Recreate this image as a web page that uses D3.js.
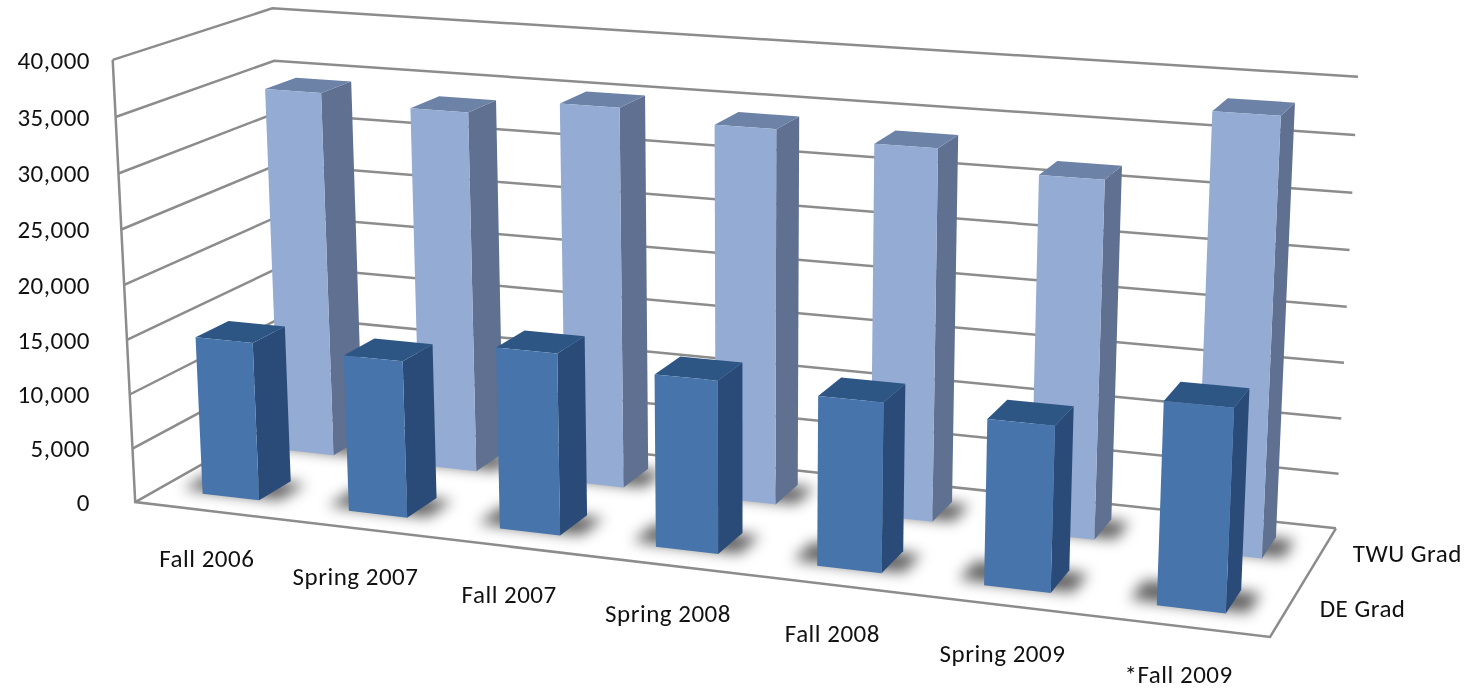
<!DOCTYPE html>
<html><head><meta charset="utf-8">
<script src="https://cdn.jsdelivr.net/npm/d3@7/dist/d3.min.js"></script>
<style>html,body{margin:0;padding:0;background:#fff}svg{display:block}text{font-family:Carlito,Lato,"Open Sans",sans-serif;fill:#111;letter-spacing:0.5px}</style>
</head><body><div id="c"></div>
<script>
const categories = ["Fall 2006","Spring 2007","Fall 2007","Spring 2008","Fall 2008","Spring 2009","*Fall 2009"];
const seriesNames = ["DE Grad","TWU Grad"];
const deGrad  = [14600,14290,16370,15360,14880,14370,17340];
const twuGrad = [34400,33600,35000,34100,33450,31800,38250];
const tickValues = [0,5000,10000,15000,20000,25000,30000,35000,40000];
const colors = {
  "DE Grad": {front:"#4674AB",side:"#2B4C78",top:"#2E5685"},
  "TWU Grad":{front:"#94ABD3",side:"#5F7090",top:"#6C82A6"}
};
const W=1469,H=689;
// camera calibration: unit-box corner (u,d,v) -> screen
const calib=[[0,0,0,135,501],[0,0,1,113,60],[0,1,1,272,8],[0,1,0,288,417],[1,1,1,1358,77],[1,1,0,1336,527],[1,0,0,1270,638]];
function solve(){
  const A=[],b=[];
  calib.forEach(([u,d,v,x,y])=>{
    A.push([u,d,v,1,0,0,0,0,-x*u,-x*d,-x*v]);b.push(x);
    A.push([0,0,0,0,u,d,v,1,-y*u,-y*d,-y*v]);b.push(y);
  });
  const n=11,M=[];
  for(let i=0;i<n;i++){M.push([]);for(let j=0;j<=n;j++){let s=0;
    for(let k=0;k<A.length;k++)s+=A[k][i]*(j<n?A[k][j]:b[k]);M[i].push(s);}}
  for(let i=0;i<n;i++)M[i][i]+=1e-9;
  for(let c=0;c<n;c++){let p=c;for(let r=c+1;r<n;r++)if(Math.abs(M[r][c])>Math.abs(M[p][c]))p=r;
    [M[c],M[p]]=[M[p],M[c]];
    for(let r=0;r<n;r++)if(r!==c){const f=M[r][c]/M[c][c];for(let j=c;j<=n;j++)M[r][j]-=f*M[c][j];}}
  return M.map((r,i)=>r[n]/r[i]);
}
const P=solve();
function project(u,d,v){const w=P[8]*u+P[9]*d+P[10]*v+1;
  return [(P[0]*u+P[1]*d+P[2]*v+P[3])/w,(P[4]*u+P[5]*d+P[6]*v+P[7])/w];}

const xBand=d3.scaleBand().domain(categories).range([0,1]).paddingInner(0.61).paddingOuter(0.305);
const dBand=d3.scaleBand().domain(seriesNames).range([0,1]).paddingInner(0.586).paddingOuter(0.288);
const y=d3.scaleLinear().domain([0,40000]).range([0,1]);
const fmt=d3.format(",");
const svg=d3.select("#c").append("svg").attr("width",W).attr("height",H);
const defs=svg.append("defs");
defs.append("filter").attr("id","sh").attr("x","-80%").attr("y","-80%").attr("width","260%").attr("height","260%")
  .append("feGaussianBlur").attr("stdDeviation",7);
defs.append("filter").attr("id","soft").attr("x","-5%").attr("y","-5%").attr("width","110%").attr("height","110%")
  .append("feGaussianBlur").attr("stdDeviation",0.45);
const line=d3.line();
const poly=pts=>line(pts)+"Z";
const root=svg.append("g");
const grid=root.append("g").attr("fill","none").attr("stroke","#8c8c8c").attr("stroke-width",2.5).attr("filter","url(#soft)");
tickValues.forEach(t=>{const v=y(t);
  grid.append("path").attr("d",line([project(0,0,v),project(0,1,v),project(1,1,v)]));});
grid.append("path").attr("d",line([project(0,0,1),project(0,0,0),project(1,0,0),project(1,1,0)]));

function drawShadow(g,cat,s){
  const bw=xBand.bandwidth(),dw=dBand.bandwidth();
  const u0=xBand(cat)-bw*0.42,u1=xBand(cat)+bw*1.3,d0=dBand(s)+dw*0.12,d1=dBand(s)+dw*0.95;
  g.append("path").attr("d",poly([project(u0,d0,0),project(u1,d0,0),project(u1,d1,0),project(u0,d1,0)]))
   .attr("fill","#000").attr("fill-opacity",0.62).attr("filter","url(#sh)");
}
function drawBar(g,cat,s,val){
  const u0=xBand(cat),u1=u0+xBand.bandwidth(),d0=dBand(s),d1=d0+dBand.bandwidth(),v=y(val),c=colors[s];
  g.append("path").attr("d",poly([project(u1,d0,0),project(u1,d1,0),project(u1,d1,v),project(u1,d0,v)])).attr("fill",c.side);
  g.append("path").attr("d",poly([project(u0,d0,v),project(u1,d0,v),project(u1,d1,v),project(u0,d1,v)])).attr("fill",c.top);
  g.append("path").attr("d",poly([project(u0,d0,0),project(u1,d0,0),project(u1,d0,v),project(u0,d0,v)])).attr("fill",c.front);
}
const marks=root.append("g").attr("filter","url(#soft)");
[["TWU Grad",twuGrad],["DE Grad",deGrad]].forEach(([s,vals])=>{
  const sg=marks.append("g");
  categories.forEach(c=>drawShadow(sg,c,s));
  categories.forEach((c,i)=>drawBar(sg,c,s,vals[i]));
});
const fs=25;
const labels=root.append("g").attr("font-size",fs);
tickValues.forEach(t=>{const p=project(0,0,y(t));
  labels.append("text").attr("x",90).attr("y",p[1]).attr("dy","0.35em").attr("text-anchor","end").text(fmt(t));});
categories.forEach(c=>{const p=project(xBand(c)+xBand.bandwidth()/2,0,0);
  labels.append("text").attr("x",p[0]-1).attr("y",p[1]+48).attr("dy","0.35em").attr("text-anchor","middle").text(c);});
seriesNames.forEach(s=>{const p=project(1,dBand(s)+dBand.bandwidth()/2,0);
  labels.append("text").attr("x",p[0]+32).attr("y",p[1]).attr("dy","0.35em").text(s);});
</script></body></html>
